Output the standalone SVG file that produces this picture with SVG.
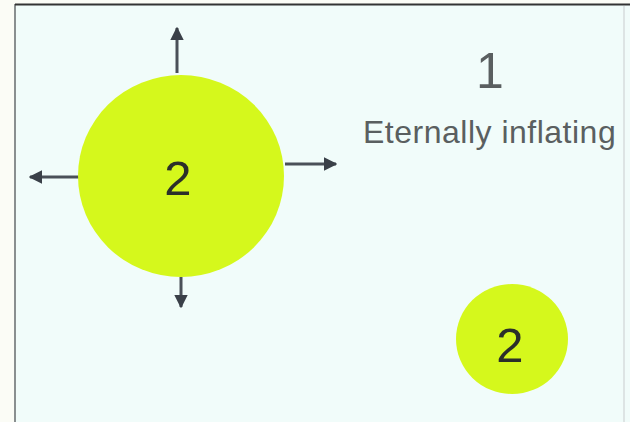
<svg xmlns="http://www.w3.org/2000/svg" width="630" height="422" viewBox="0 0 630 422">
<defs>
<marker id="ah" viewBox="0 0 10 10" refX="9" refY="5" markerWidth="4.5" markerHeight="4.5" orient="auto" markerUnits="strokeWidth">
<path d="M0,0 L10,5 L0,10 z" fill="#3a4048"/>
</marker>
<style>
.bubble{fill:#d5f81c}
.num{font-family:"Liberation Sans",Arial,sans-serif;font-size:49px;fill:#2b2f2a;text-anchor:middle}
.lbl{font-family:"Liberation Sans",Arial,sans-serif;fill:#5a5f60}
.arr{stroke:#4a5058;stroke-width:3;fill:none;marker-end:url(#ah)}
</style>
</defs>
<rect x="0" y="0" width="630" height="422" fill="#fbfcf6"/>
<rect x="15" y="4" width="620" height="425" fill="#f1fcfa"/>
<line x1="15" y1="4" x2="15" y2="422" stroke="#8a8f90" stroke-width="2"/>
<line x1="15" y1="4.5" x2="630" y2="4.5" stroke="#333" stroke-width="2"/>
<line x1="624" y1="6" x2="624" y2="422" stroke="#d6dcdc" stroke-width="1.5"/>
<g id="connectors">
<line class="arr" x1="177" y1="73" x2="177" y2="28"/>
<line class="arr" x1="80" y1="177" x2="30" y2="177"/>
<line class="arr" x1="285" y1="164" x2="336" y2="164"/>
<line class="arr" x1="181" y1="277" x2="181" y2="307"/>
</g>
<g id="big">
<ellipse class="bubble" cx="181" cy="176" rx="103" ry="101"/>
<text class="num" x="178" y="195">2</text>
</g>
<g id="small">
<ellipse class="bubble" cx="512" cy="339" rx="56" ry="55"/>
<text class="num" x="510" y="362">2</text>
</g>
<g id="label">
<text class="lbl" x="490" y="88" font-size="50" text-anchor="middle">1</text>
<text class="lbl" x="363" y="143" font-size="32" letter-spacing="0.5">Eternally inflating</text>
</g>
</svg>
